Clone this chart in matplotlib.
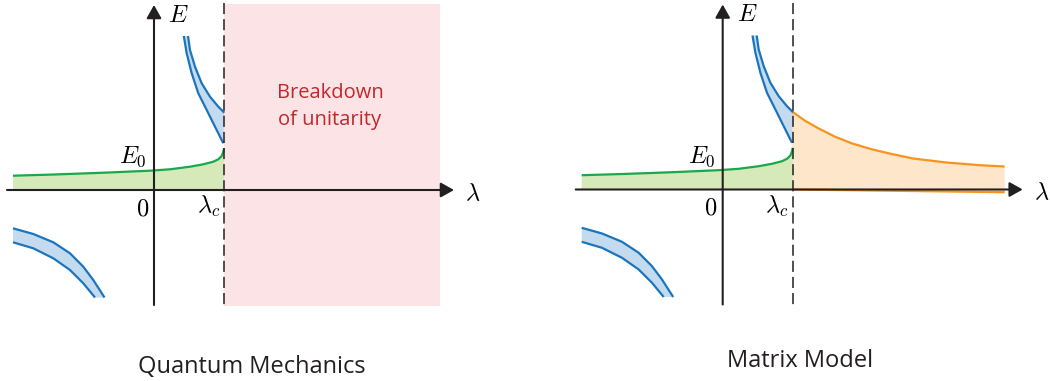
import matplotlib.pyplot as plt
import numpy as np

plt.rcParams['mathtext.fontset'] = 'cm'
plt.rcParams['lines.scale_dashes'] = False

# curves, (lambda, E) with 1 unit = 1 px, origin at axis crossing
green_x = [-141, -100, -50, -4, 16, 36, 49.3, 59.3, 64.3, 67.7, 69.3, 70]
green_y = [14.3, 15.5, 17.3, 19.3, 20.7, 23.3, 25.7, 28.3, 30.7, 34, 38.3, 41.7]

blue_out_x = [34, 36, 41, 47.7, 56, 64.3, 70.3]
blue_out_y = [154, 140, 123.3, 106.7, 93.3, 83.3, 77.3]
blue_in_x = [29.8, 32.7, 37.7, 44.3, 52.7, 61, 69.3]
blue_in_y = [154, 136.7, 116.7, 96.7, 80, 63.3, 46.7]

low_up_x = [-141, -120.7, -100.7, -84, -70.7, -60.7, -49.5]
low_up_y = [-38.3, -44, -52.3, -63.3, -76.7, -90, -107.5]
low_dn_x = [-141, -120.7, -100.7, -84, -70.7, -59]
low_dn_y = [-52.3, -58.3, -68.3, -80, -93.3, -107.5]

orange_up_x = [69.6, 82.3, 95.6, 112.3, 129, 149, 169, 190.3, 223.7, 257, 282]
orange_up_y = [77.8, 68.8, 61.2, 52.8, 46.2, 40.2, 35.5, 31, 27, 24.3, 23]
orange_dn_x = [69.6, 282]
orange_dn_y = [0, -2.7]

lam_c = 70

c_axis = '#231f20'
c_blue, c_blue_f = '#1b75bc', '#c4dbef'
c_green, c_green_f = '#19a84b', '#d5e9b9'
c_orange, c_orange_f = '#f7941d', '#fde6c9'
c_pink = '#fce4e6'
c_red = '#c1272d'

fig = plt.figure(figsize=(10.5, 3.81), dpi=100)


def curve(ax, x, y, c):
    ax.plot(x, y, color=c, lw=1.6, zorder=3, solid_joinstyle='round', solid_capstyle='butt')


def panel(ax, ox, oy, title, tx, ty, matrix=False):
    ax.set_xlim(-ox, 525 - ox)
    ax.set_ylim(oy - 381, oy)
    ax.axis('off')

    if not matrix:
        ax.fill([lam_c, 286, 286, lam_c], [186, 186, -115.6, -115.6], color=c_pink, lw=0, zorder=0)
        ax.text(176, 91.7, 'Breakdown', color=c_red, ha='center', va='baseline',
                fontsize=14.5, family='Open Sans')
        ax.text(176, 65, 'of unitarity', color=c_red, ha='center', va='baseline',
                fontsize=14.5, family='Open Sans')
    else:
        ax.fill(orange_up_x + orange_dn_x[::-1], orange_up_y + orange_dn_y[::-1],
                color=c_orange_f, lw=0, zorder=1)
        curve(ax, orange_up_x, orange_up_y, c_orange)
        curve(ax, orange_dn_x, orange_dn_y, c_orange)

    # green ground state
    ax.fill(green_x + [70, -141], green_y + [0, 0], color=c_green_f, lw=0, zorder=1)
    curve(ax, green_x, green_y, c_green)

    # blue bands
    ax.fill(blue_out_x + blue_in_x[::-1], blue_out_y + blue_in_y[::-1], color=c_blue_f, lw=0, zorder=1)
    curve(ax, blue_out_x, blue_out_y, c_blue)
    curve(ax, blue_in_x, blue_in_y, c_blue)
    ax.fill(low_up_x + low_dn_x[::-1], low_up_y + low_dn_y[::-1], color=c_blue_f, lw=0, zorder=1)
    curve(ax, low_up_x, low_up_y, c_blue)
    curve(ax, low_dn_x, low_dn_y, c_blue)

    # dashed critical line
    ax.plot([lam_c, lam_c], [187, -115], color=c_axis, lw=1.1, ls=(0, (8, 3.6)), zorder=4)

    # axes with arrows
    arr = dict(arrowstyle='-|>,head_length=0.5,head_width=0.28', mutation_scale=16,
               lw=1.5, color=c_axis, shrinkA=0, shrinkB=0)
    ax.annotate('', xy=(300, 0), xytext=(-147, 0), arrowprops=arr, zorder=5)
    ax.annotate('', xy=(0, 185), xytext=(0, -115), arrowprops=arr, zorder=5)

    ax.text(14, 168.3, '$E$', fontsize=17.5, ha='left', va='baseline')
    ax.text(-7, 26.7, '$E_0$', fontsize=17.5, ha='right', va='baseline')
    ax.text(-5, -25, '$0$', fontsize=17.5, ha='right', va='baseline')
    ax.text(66, -23, r'$\lambda_c$', fontsize=17.5, ha='right', va='baseline')
    ax.text(311, -10, r'$\lambda$', fontsize=17.5, ha='left', va='baseline')

    ax.text(tx, ty, title, fontsize=17, ha='center', va='baseline',
            family='Open Sans', color='#231f20')


ax1 = fig.add_axes([0, 0, 0.5, 1])
panel(ax1, 154, 190, 'Quantum Mechanics', 97.7, -182.7)
ax2 = fig.add_axes([0.5, 0, 0.5, 1])
panel(ax2, 197.7, 189.5, 'Matrix Model', 77.8, -177.2, matrix=True)

fig.savefig('out.png', dpi=100)
